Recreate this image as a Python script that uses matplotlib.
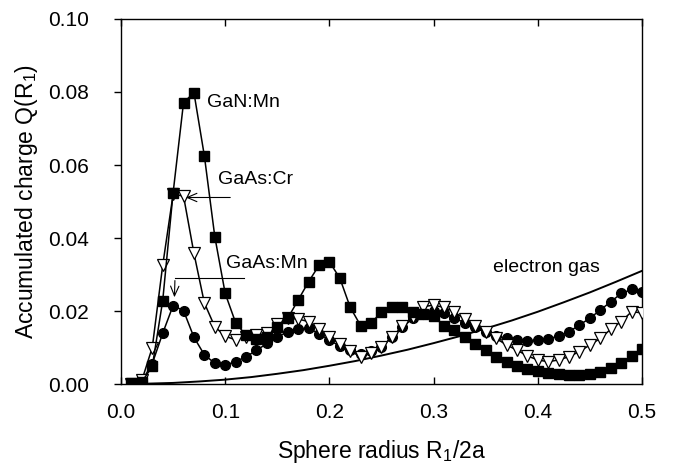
import numpy as np
import matplotlib
matplotlib.use('Agg')
import matplotlib.pyplot as plt
from matplotlib.ticker import FormatStrFormatter

plt.rcParams['font.family'] = ['Liberation Sans', 'DejaVu Sans']
plt.rcParams['mathtext.fontset'] = 'custom'
plt.rcParams['mathtext.rm'] = 'Liberation Sans'
plt.rcParams['mathtext.it'] = 'Liberation Sans:italic'

# sphere radius R1/2a, one point every 0.01
radius = [0.01, 0.02, 0.03, 0.04, 0.05, 0.06, 0.07, 0.08, 0.09, 0.10,
          0.11, 0.12, 0.13, 0.14, 0.15, 0.16, 0.17, 0.18, 0.19, 0.20,
          0.21, 0.22, 0.23, 0.24, 0.25, 0.26, 0.27, 0.28, 0.29, 0.30,
          0.31, 0.32, 0.33, 0.34, 0.35, 0.36, 0.37, 0.38, 0.39, 0.40,
          0.41, 0.42, 0.43, 0.44, 0.45, 0.46, 0.47, 0.48, 0.49, 0.50]

q_gan_mn = [0.0002, 0.0006, 0.0048, 0.0228, 0.0524, 0.0771, 0.0798, 0.0625, 0.0404, 0.0248,
            0.0168, 0.0133, 0.0122, 0.0128, 0.0155, 0.0180, 0.0230, 0.0280, 0.0325, 0.0335,
            0.0290, 0.0210, 0.0160, 0.0168, 0.0196, 0.0211, 0.0211, 0.0198, 0.0192, 0.0185,
            0.0160, 0.0148, 0.0128, 0.0110, 0.0093, 0.0075, 0.0061, 0.0050, 0.0040, 0.0035,
            0.0030, 0.0027, 0.0026, 0.0025, 0.0027, 0.0034, 0.0043, 0.0057, 0.0077, 0.0096]

q_gaas_cr = [0.0001, 0.0010, 0.0100, 0.0325, 0.0520, 0.0515, 0.0358, 0.0222, 0.0157, 0.0131,
             0.0121, 0.0130, 0.0134, 0.0139, 0.0164, 0.0180, 0.0178, 0.0171, 0.0150, 0.0128,
             0.0110, 0.0090, 0.0075, 0.0084, 0.0102, 0.0128, 0.0159, 0.0184, 0.0212, 0.0216,
             0.0210, 0.0198, 0.0177, 0.0159, 0.0143, 0.0125, 0.0107, 0.0093, 0.0077, 0.0066,
             0.0061, 0.0066, 0.0075, 0.0089, 0.0107, 0.0125, 0.0150, 0.0171, 0.0198, 0.0195]

q_gaas_mn = [0.0001, 0.0008, 0.0056, 0.0139, 0.0215, 0.0201, 0.0128, 0.0080, 0.0057, 0.0052,
             0.0061, 0.0075, 0.0092, 0.0111, 0.0130, 0.0142, 0.0151, 0.0153, 0.0138, 0.0120,
             0.0104, 0.0093, 0.0082, 0.0091, 0.0102, 0.0128, 0.0155, 0.0180, 0.0192, 0.0200,
             0.0194, 0.0180, 0.0168, 0.0155, 0.0143, 0.0132, 0.0125, 0.0120, 0.0119, 0.0120,
             0.0124, 0.0131, 0.0143, 0.0162, 0.0180, 0.0203, 0.0225, 0.0248, 0.0259, 0.0253]

# electron gas reference curve
gas_r = [0.01, 0.025, 0.05, 0.075, 0.10, 0.125, 0.15, 0.175, 0.20, 0.225, 0.25,
         0.275, 0.30, 0.325, 0.35, 0.375, 0.40, 0.425, 0.45, 0.475, 0.50]
gas_q = [0.0000, 0.0001, 0.0003, 0.0007, 0.0012, 0.0019, 0.0028, 0.0038, 0.0050, 0.0063, 0.0078,
         0.0094, 0.0112, 0.0131, 0.0152, 0.0174, 0.0198, 0.0224, 0.0251, 0.0280, 0.0310]

fig = plt.figure(figsize=(6.81, 4.69), dpi=100)
ax = fig.add_axes([0.1777, 0.1812, 0.765, 0.7783])

ax.plot(gas_r, gas_q, color='black', lw=1.4, zorder=2)
ax.plot(radius, q_gaas_mn, color='black', lw=1.1, marker='o', ms=7,
        mfc='black', mec='black', zorder=3)
ax.plot(radius, q_gaas_cr, color='black', lw=1.1, marker='v', ms=8,
        mfc='white', mec='black', mew=0.9, zorder=4)
ax.plot(radius, q_gan_mn, color='black', lw=1.1, marker='s', ms=6.5,
        mfc='black', mec='black', zorder=5)

# labels and arrows
ax.text(0.0825, 0.0770, 'GaN:Mn', fontsize=14, va='center', ha='left')
ax.text(0.0930, 0.0560, 'GaAs:Cr', fontsize=14, va='center', ha='left')
ax.text(0.1008, 0.0329, 'GaAs:Mn', fontsize=14, va='center', ha='left')
ax.text(0.3570, 0.0320, 'electron gas', fontsize=14, va='center', ha='left')

ax.annotate('', xy=(0.0595, 0.0511), xytext=(0.1075, 0.0511),
            arrowprops=dict(arrowstyle='->,head_length=0.7,head_width=0.3',
                            color='black', lw=0.8), zorder=6)
ax.plot([0.118, 0.0518], [0.0291, 0.0291], color='black', lw=0.8, zorder=6)
ax.annotate('', xy=(0.0512, 0.0230), xytext=(0.0518, 0.0291),
            arrowprops=dict(arrowstyle='->,head_length=0.7,head_width=0.3',
                            color='black', lw=0.8), zorder=6)

ax.set_xlim(0, 0.5)
ax.set_ylim(0, 0.1)
ax.set_xticks([0.0, 0.1, 0.2, 0.3, 0.4, 0.5])
ax.set_yticks([0.00, 0.02, 0.04, 0.06, 0.08, 0.10])
ax.xaxis.set_major_formatter(FormatStrFormatter('%.1f'))
ax.yaxis.set_major_formatter(FormatStrFormatter('%.2f'))
ax.tick_params(axis='x', direction='in', top=True, length=5, width=1,
               labelsize=15, pad=14)
ax.tick_params(axis='y', direction='out', length=5, width=1,
               labelsize=15, pad=18)
for s in ax.spines.values():
    s.set_linewidth(1.0)

ax.set_xlabel('Sphere radius R$_1$/2a', fontsize=16.5, labelpad=11)
ax.set_ylabel('Accumulated charge Q(R$_1$)', fontsize=16.5, labelpad=6)

fig.savefig('out.png', dpi=100)
